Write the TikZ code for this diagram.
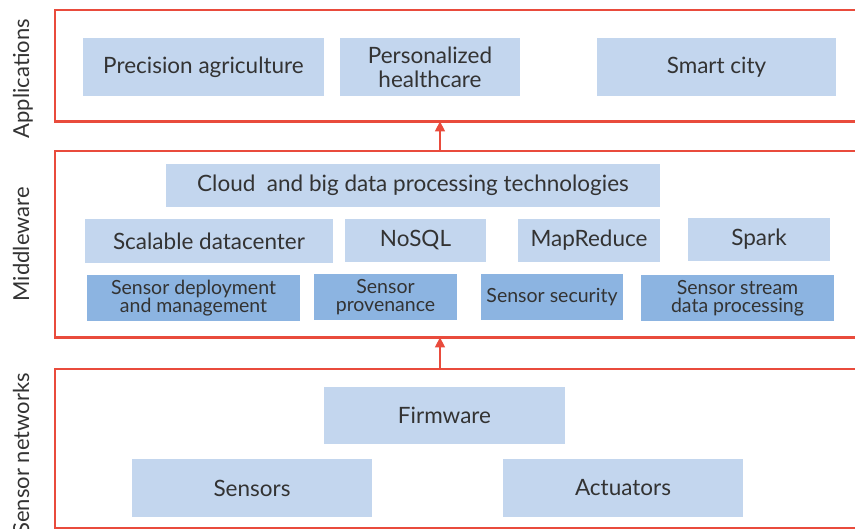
\documentclass[tikz,border=0pt]{standalone}
\usepackage{fontspec}
\setmainfont{Lato}
\usetikzlibrary{arrows.meta}
\definecolor{framered}{HTML}{E94B3C}
\definecolor{lightblue}{HTML}{C3D6EE}
\definecolor{midblue}{HTML}{8CB4E1}
\definecolor{ink}{HTML}{333333}
\tikzset{
  box/.style={inner sep=0pt, align=center, text=ink,
    font=\fontsize{22.5}{24}\selectfont},
  lbox/.style={box, fill=lightblue},
  dbox/.style={box, fill=midblue, font=\fontsize{19.5}{18.5}\selectfont},
  layer/.style={inner sep=0pt, anchor=north west, minimum width=800pt},
  frame/.style={draw=framered, line width=2.6pt},
  arr/.style={draw=framered, line width=1.4pt, -{Triangle[width=10pt,length=10pt]}},
  side/.style={rotate=90, anchor=base east, inner sep=0pt, text=ink,
    font=\fontsize{22}{24}\selectfont},
}
\begin{document}
\begin{tikzpicture}[x=1pt, y=-1pt]
\useasboundingbox (0,0) rectangle (855,529);

% layer frames (open on the right)
\node[layer, minimum height=111pt] (app) at (55,10) {};
\node[layer, minimum height=186pt] (mw) at (55,151) {};
\node[layer, minimum height=159pt] (sn) at (55,369) {};
\foreach \f in {app,mw,sn}
  \draw[frame] (\f.north east) -- (\f.north west) -- (\f.south west) -- (\f.south east);

% layer names
\node[side] (tapp) at (29,19) {Applications};
\node[side] (tmw) at (29,187) {Middleware};
\node[side] (tsn) at (29,373) {Sensor networks};

% applications
\node[lbox, minimum width=241pt, minimum height=58pt] (pa) at (203.5,67) {Precision agriculture};
\node[lbox, minimum width=180pt, minimum height=58pt] (ph) at (430,67) {Personalized\\healthcare};
\node[lbox, minimum width=239pt, minimum height=58pt] (sc) at (716.5,67) {Smart city};

% middleware
\node[lbox, minimum width=494pt, minimum height=43pt] (cb) at (413,185.5) {Cloud\ \ and big data processing technologies};
\node[lbox, minimum width=248pt, minimum height=44pt] (sd) at (209,241) {Scalable datacenter};
\node[lbox, minimum width=141pt, minimum height=43pt] (nq) at (415.5,240.5) {NoSQL};
\node[lbox, minimum width=142pt, minimum height=43pt] (mr) at (589,240.5) {MapReduce};
\node[lbox, minimum width=142pt, minimum height=43pt] (sp) at (759,239.5) {Spark};
\node[dbox, minimum width=213pt, minimum height=46pt] (dm) at (193.5,298) {Sensor deployment\\and management};
\node[dbox, minimum width=143pt, minimum height=46pt] (pv) at (385.5,297) {Sensor\\provenance};
\node[dbox, minimum width=142pt, minimum height=46pt] (ss) at (552,297) {Sensor security};
\node[dbox, minimum width=193pt, minimum height=46pt] (st) at (737.5,298) {Sensor stream\\data processing};

% sensor networks
\node[lbox, minimum width=241pt, minimum height=57pt] (fw) at (444.5,415.5) {Firmware};
\node[lbox, minimum width=240pt, minimum height=58pt] (se) at (252,488) {Sensors};
\node[lbox, minimum width=240pt, minimum height=58pt] (ac) at (623,488) {Actuators};

% flow between layers
\coordinate (ax) at (440,0);
\draw[arr] (mw.north -| ax) -- (app.south -| ax);
\draw[arr] (sn.north -| ax) -- (mw.south -| ax);
\end{tikzpicture}
\end{document}
